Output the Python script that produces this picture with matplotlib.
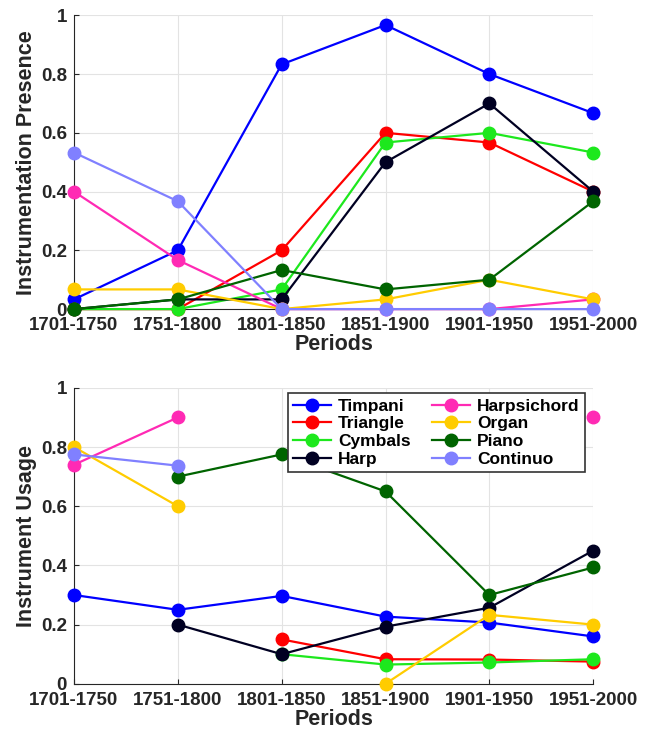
import numpy as np
import matplotlib
matplotlib.use("Agg")
import matplotlib.pyplot as plt

plt.rcParams['font.family'] = ['Liberation Sans', 'DejaVu Sans']
plt.rcParams['font.weight'] = 'bold'

periods = ["1701-1750", "1751-1800", "1801-1850", "1851-1900", "1901-1950", "1951-2000"]
instruments = ["Timpani", "Triangle", "Cymbals", "Harp", "Harpsichord", "Organ", "Piano", "Continuo"]
colors = ["#0000ff", "#ff0000", "#1de81d", "#000022", "#ff2ab4", "#ffcc00", "#006400", "#8080ff"]

nan = np.nan

# Share of works in which each instrument appears
presence_timpani = [0.033, 0.2, 0.833, 0.967, 0.8, 0.667]
presence_triangle = [0.0, 0.0, 0.2, 0.6, 0.567, 0.4]
presence_cymbals = [0.0, 0.0, 0.067, 0.567, 0.6, 0.533]
presence_harp = [0.0, 0.033, 0.033, 0.5, 0.7, 0.4]
presence_harpsichord = [0.4, 0.167, 0.0, 0.0, 0.0, 0.033]
presence_organ = [0.067, 0.067, 0.0, 0.033, 0.1, 0.033]
presence_piano = [0.0, 0.033, 0.133, 0.067, 0.1, 0.367]
presence_continuo = [0.533, 0.367, 0.0, 0.0, 0.0, 0.0]

# Usage of each instrument within the works where it appears
usage_timpani = [0.3, 0.25, 0.297, 0.227, 0.207, 0.16]
usage_triangle = [nan, nan, 0.15, 0.083, 0.082, 0.075]
usage_cymbals = [nan, nan, 0.1, 0.065, 0.072, 0.083]
usage_harp = [nan, 0.2, 0.1, 0.193, 0.257, 0.45]
usage_harpsichord = [0.74, 0.9, nan, nan, nan, 0.9]
usage_organ = [0.8, 0.6, nan, 0.0, 0.233, 0.2]
usage_piano = [nan, 0.7, 0.775, 0.65, 0.3, 0.393]
usage_continuo = [0.775, 0.737, nan, nan, nan, nan]

presence = [presence_timpani, presence_triangle, presence_cymbals, presence_harp,
            presence_harpsichord, presence_organ, presence_piano, presence_continuo]
usage = [usage_timpani, usage_triangle, usage_cymbals, usage_harp,
         usage_harpsichord, usage_organ, usage_piano, usage_continuo]

fig = plt.figure(figsize=(6.49, 7.29), dpi=100)
ax1 = fig.add_axes([0.114, 0.576, 0.800, 0.403])
ax2 = fig.add_axes([0.114, 0.062, 0.800, 0.406])

x = np.arange(len(periods))


def style(ax, ylabel):
    ax.set_xlim(0, len(periods) - 1)
    ax.set_ylim(0, 1)
    ax.set_xticks(x)
    ax.set_xticklabels(periods)
    ax.set_yticks([0, 0.2, 0.4, 0.6, 0.8, 1])
    ax.set_yticklabels(["0", "0.2", "0.4", "0.6", "0.8", "1"])
    ax.tick_params(axis='both', labelsize=13.5, direction='in', length=3.5,
                   width=0.8, colors='#262626')
    ax.tick_params(axis='x', pad=6)
    ax.tick_params(axis='y', pad=5)
    for lab in ax.get_xticklabels() + ax.get_yticklabels():
        lab.set_fontweight('bold')
    ax.grid(True, color='#e3e3e3', linewidth=0.8)
    ax.set_axisbelow(True)
    for s in ['top', 'right']:
        ax.spines[s].set_visible(False)
    for s in ['left', 'bottom']:
        ax.spines[s].set_color('#262626')
        ax.spines[s].set_linewidth(0.8)
    ax.set_xlabel("Periods", fontsize=15.5, fontweight='bold', color='#262626', labelpad=0)
    ax.set_ylabel(ylabel, fontsize=15.5, fontweight='bold', color='#262626', labelpad=3)


for name, vals, c in zip(instruments, presence, colors):
    ax1.plot(x, vals, '-o', color=c, lw=1.6, ms=9, clip_on=False, label=name, zorder=3)
style(ax1, "Instrumentation Presence")

for name, vals, c in zip(instruments, usage, colors):
    ax2.plot(x, vals, '-o', color=c, lw=1.6, ms=9, clip_on=False, label=name, zorder=3)
style(ax2, "Instrument Usage")

leg = ax2.legend(ncol=2, loc='upper right', bbox_to_anchor=(0.99, 0.993),
                 prop={'weight': 'bold', 'size': 12.5}, frameon=True, fancybox=False,
                 edgecolor='#333333', framealpha=1, handlelength=2.2,
                 handletextpad=0.4, columnspacing=1.2, labelspacing=0.15,
                 borderpad=0.3, borderaxespad=0.2)
leg.get_frame().set_linewidth(1.2)

fig.savefig("out.png", dpi=100)
